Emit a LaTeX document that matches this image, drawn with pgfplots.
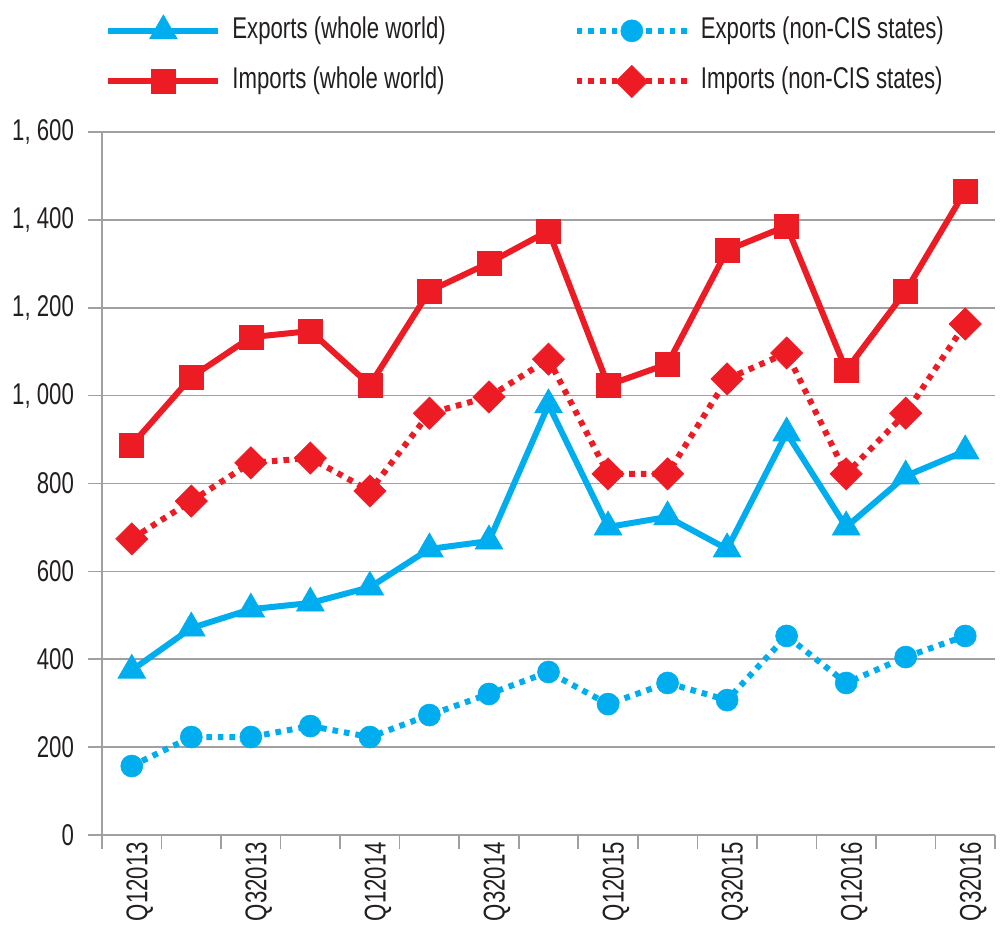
\documentclass[border=0pt]{standalone}
\usepackage{fontspec}
\setmainfont{Liberation Sans}[FakeStretch=0.74]
\usepackage{pgfplots}
\usepackage{pgfplotstable}
\pgfplotsset{compat=1.18}

\definecolor{cblue}{RGB}{0,174,239}
\definecolor{cred}{RGB}{237,28,36}
\definecolor{cgrid}{RGB}{160,160,160}
\definecolor{ctext}{RGB}{35,31,32}

% quarters Q1 2013 .. Q3 2016; ew/iw = whole world, en/in = non-CIS states
\pgfplotstableread{
x  ew   iw    en   in
0  375  888   157  674
1  471  1042  223  760
2  514  1133  223  847
3  528  1147  248  858
4  564  1024  223  783
5  651  1238  273  960
6  669  1302  321  997
7  979  1375  371  1083
8  701  1024  298  822
9  724  1072  346  822
10 651  1331  307  1038
11 915  1386  453  1097
12 701  1058  346  822
13 817  1238  405  960
14 874  1466  453  1163
}\data

\newcommand{\lblfont}{\fontsize{15}{18}\selectfont\color{ctext}}

\begin{document}
\begin{tikzpicture}
\useasboundingbox (0,0) rectangle (500pt,466.5pt);
\begin{axis}[
  at={(51pt,49pt)}, anchor=south west,
  scale only axis, width=446.5pt, height=351.5pt,
  xmin=-0.5, xmax=14.5, ymin=0, ymax=1600,
  axis lines*=left,
  axis line style={cgrid, line width=1.1pt},
  tick align=outside,
  major tick length=7pt,
  tick style={cgrid, line width=0.8pt},
  ymajorgrids,
  grid style={cgrid, line width=0.8pt},
  ytick={0,200,...,1600},
  yticklabels={0,200,400,600,800,{1, 000},{1, 200},{1, 400},{1, 600}},
  yticklabel style={font=\lblfont, xshift=-3.5pt},
  xtick={-0.5,0.5,...,14.5},
  xticklabels={},
  extra x ticks={0,2,...,14},
  extra x tick labels={Q12013,Q32013,Q12014,Q32014,Q12015,Q32015,Q12016,Q32016},
  extra x tick style={major tick length=0pt, tick style={draw=none},
    ticklabel style={font=\lblfont, rotate=90, anchor=east, yshift=-4pt}},
  clip=false,
  legend columns=2,
  legend image code/.code={\draw[#1, mark repeat=2, mark phase=2]
    plot coordinates {(0pt,0pt) (27.5pt,0pt) (55pt,0pt)};},
  legend style={draw=none, fill=none, at={(0,1)}, anchor=south west,
    xshift=1.5pt, yshift=17pt, inner sep=0pt, font=\lblfont,
    cells={anchor=west},
    nodes={inner sep=0pt, text height=10.5pt, text depth=3pt},
    row sep=10.5pt,
    /tikz/every odd column/.append style={column sep=5.5pt},
    /tikz/every even column/.append style={column sep=64pt}},
]
\addplot[cblue, line width=3pt, mark=triangle*, mark size=8pt,
  mark options={solid, line width=0.3pt}] table[x=x, y=ew] {\data};
\addlegendentry{Exports (whole world)}
\addplot[cblue, line width=3pt, dash pattern=on 2.8pt off 3pt, mark=*, mark size=5.5pt,
  mark options={solid, line width=0.3pt}] table[x=x, y=en] {\data};
\addlegendentry{Exports (non-CIS states)}
\addplot[cred, line width=3pt, mark=square*, mark size=6pt,
  mark options={solid, line width=0.3pt}] table[x=x, y=iw] {\data};
\addlegendentry{Imports (whole world)}
\addplot[cred, line width=3pt, dash pattern=on 2.8pt off 3pt, mark=square*, mark size=5.7pt,
  mark options={solid, rotate=45, line width=0.3pt}] table[x=x, y=in] {\data};
\addlegendentry{Imports (non-CIS states)}
\end{axis}
\end{tikzpicture}
\end{document}
